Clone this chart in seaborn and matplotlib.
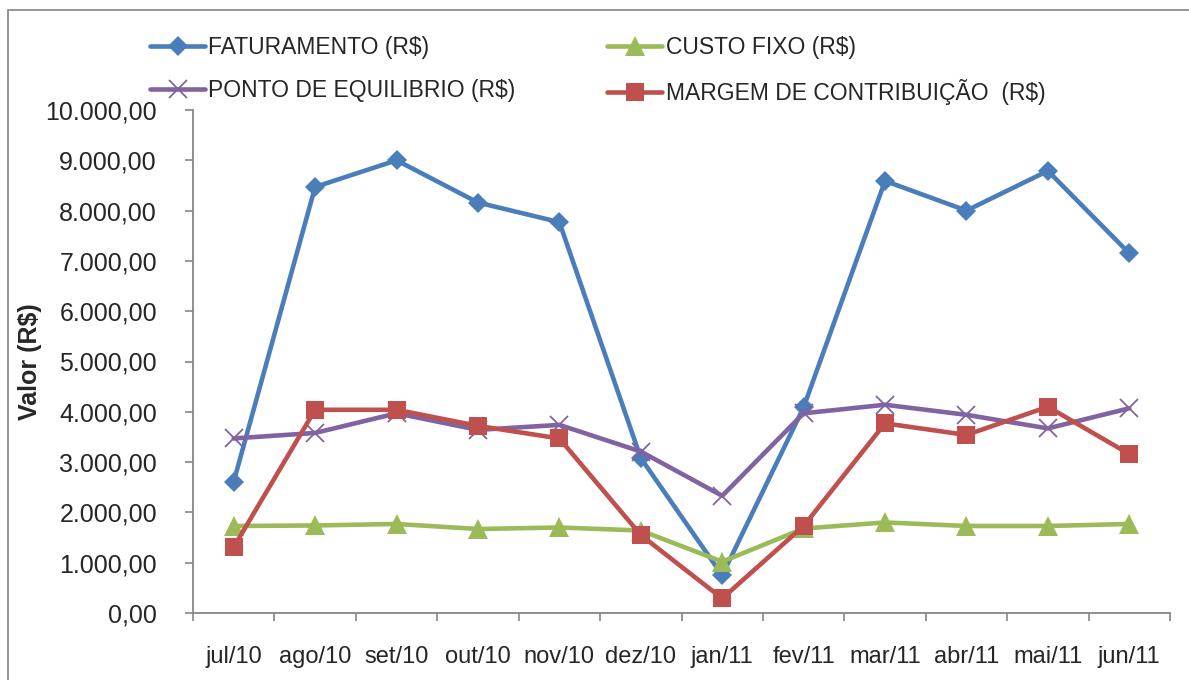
import matplotlib
matplotlib.use("Agg")
import matplotlib.pyplot as plt
from matplotlib.patches import Rectangle
from matplotlib.ticker import FuncFormatter, FixedLocator
import numpy as np
import pandas as pd
import seaborn as sns

# Monthly values (R$)
months = ["jul/10", "ago/10", "set/10", "out/10", "nov/10", "dez/10",
          "jan/11", "fev/11", "mar/11", "abr/11", "mai/11", "jun/11"]
faturamento = [2610, 8470, 9000, 8160, 7770, 3080, 750, 4090, 8590, 8000, 8790, 7150]
custo_fixo = [1730, 1740, 1770, 1670, 1700, 1640, 1020, 1680, 1800, 1730, 1730, 1770]
ponto_equilibrio = [3470, 3580, 3970, 3640, 3740, 3210, 2330, 3970, 4140, 3940, 3670, 4070]
margem = [1310, 4040, 4040, 3720, 3470, 1550, 290, 1730, 3770, 3540, 4100, 3160]

series_names = ["FATURAMENTO (R$)", "CUSTO FIXO (R$)",
                "PONTO DE EQUILIBRIO (R$)", "MARGEM DE CONTRIBUIÇÃO  (R$)"]
series_values = [faturamento, custo_fixo, ponto_equilibrio, margem]

sns.set_style("white")
plt.rcParams["font.family"] = ["Liberation Sans", "DejaVu Sans"]

W, H = 1189, 680
fig = plt.figure(figsize=(W / 100, H / 100), dpi=100)
fig.patch.set_facecolor("white")

# outer chart frame
fig.patches.append(Rectangle((8 / W, -0.05), 1.1, 1 - 10 / H + 0.05,
                             transform=fig.transFigure, fill=False,
                             edgecolor="#8c8c8c", linewidth=1.3))

ax = fig.add_axes([193 / W, 1 - 613 / H, (1170 - 193) / W, (613 - 110) / H])

styles = [
    dict(color="#4A7EBB", marker="D", markersize=10.5, mew=0),
    dict(color="#9BBB59", marker="^", markersize=14, mew=0),
    dict(color="#8064A2", marker="x", markersize=13, mew=1.3),
    dict(color="#C0504D", marker="s", markersize=12.5, mew=0),
]

x = np.arange(len(months))
for name, vals, st in zip(series_names, series_values, styles):
    df = pd.DataFrame({"mes": x, "valor": vals})
    sns.lineplot(data=df, x="mes", y="valor", ax=ax, label=name,
                 color=st["color"], linewidth=3.3, marker=st["marker"],
                 markersize=st["markersize"], markeredgewidth=st["mew"],
                 markeredgecolor=st["color"], markerfacecolor=st["color"])

ax.set_xlim(-0.5, len(months) - 0.5)
ax.set_ylim(0, 10000)

# y axis
ax.set_yticks(np.arange(0, 10001, 1000))
ax.yaxis.set_major_formatter(FuncFormatter(
    lambda v, p: f"{v:,.2f}".replace(",", "X").replace(".", ",").replace("X", ".")))
ax.tick_params(axis="y", direction="out", length=6, width=1.2, color="#868686",
               labelsize=18, pad=20, left=True)

# x axis: labels centred on categories, tick marks between them
ax.set_xticks(x)
ax.set_xticklabels(months)
ax.xaxis.set_minor_locator(FixedLocator(np.arange(-0.5, len(months), 1.0)))
ax.tick_params(axis="x", which="major", length=0, labelsize=17, pad=24)
ax.tick_params(axis="x", which="minor", direction="out", length=6, width=1.2,
               color="#868686", bottom=True)

ax.set_xlabel("")
ax.set_ylabel("")
fig.text(30 / W, 1 - 362 / H, "Valor (R$)", rotation=90, fontsize=18,
         fontweight="bold", ha="center", va="center")

for side in ["top", "right"]:
    ax.spines[side].set_visible(False)
for side in ["left", "bottom"]:
    ax.spines[side].set_color("#868686")
    ax.spines[side].set_linewidth(1.3)
ax.grid(False)

handles, labels = ax.get_legend_handles_labels()
ax.get_legend().remove()
order = [0, 2, 1, 3]
fig.legend([handles[i] for i in order], [labels[i] for i in order],
           ncol=2, loc="upper left", bbox_to_anchor=(150 / W, 1 - 36 / H),
           frameon=False, fontsize=16.5, handlelength=2.4, handletextpad=0.15,
           columnspacing=4.0, labelspacing=0.87, borderpad=0, borderaxespad=0)

fig.savefig("out.png", dpi=100, facecolor="white")
